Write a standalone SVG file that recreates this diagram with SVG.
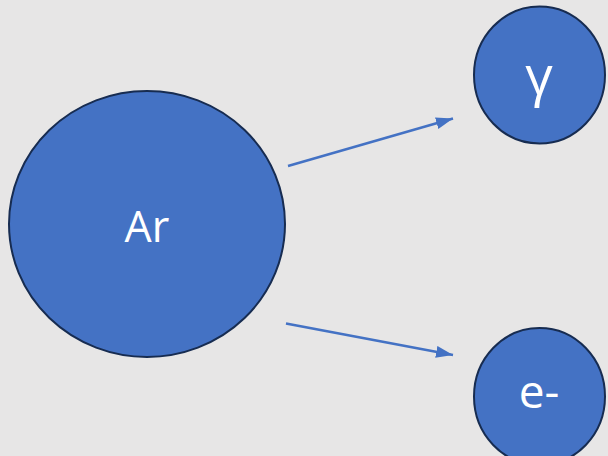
<svg xmlns="http://www.w3.org/2000/svg" width="608" height="456" viewBox="0 0 608 456">
  <defs>
    <marker id="arrow" viewBox="0 0 17 12" refX="17" refY="6" markerWidth="17" markerHeight="12" markerUnits="userSpaceOnUse" orient="auto">
      <path d="M0,0 L17,6 L0,12 Z" fill="#4472c4"/>
    </marker>
    <style>
      .node { fill: #4472c4; stroke: #172c51; stroke-width: 2; }
      .label { fill: #ffffff; font-family: "Open Sans", "Liberation Sans", sans-serif; text-anchor: middle; }
      .edge { stroke: #4472c4; stroke-width: 2.5; fill: none; marker-end: url(#arrow); }
    </style>
  </defs>
  <rect x="0" y="0" width="608" height="456" fill="#e7e6e6"/>

  <g id="connectors">
    <line class="edge" x1="288" y1="166" x2="453" y2="118.5"/>
    <line class="edge" x1="286" y1="323.5" x2="453" y2="355"/>
  </g>

  <g id="node-ar">
    <ellipse class="node" cx="147" cy="224" rx="138" ry="133"/>
    <text class="label" x="147" y="242" font-size="43">Ar</text>
  </g>

  <g id="node-gamma">
    <ellipse class="node" cx="539.5" cy="75" rx="65.5" ry="68.5"/>
    <text class="label" x="539" y="95" font-size="54">γ</text>
  </g>

  <g id="node-electron">
    <ellipse class="node" cx="539.5" cy="396.5" rx="65.5" ry="68.5"/>
    <text class="label" x="539" y="408" font-size="46">e-</text>
  </g>
</svg>
